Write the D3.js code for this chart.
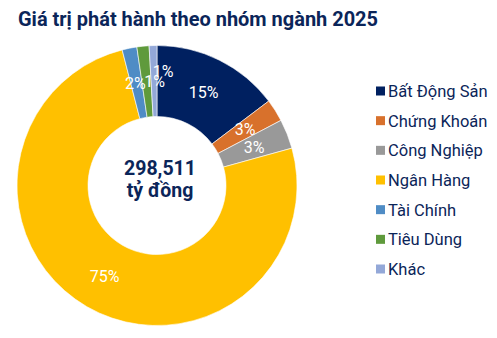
<!DOCTYPE html>
<html><head><meta charset="utf-8">
<script src="https://cdn.jsdelivr.net/npm/d3@7"></script>
<style>
html,body{margin:0;padding:0;background:#fff;}
svg{display:block;font-family:Roboto,"Noto Sans",sans-serif;}
</style></head>
<body><svg id="c" width="497" height="338"></svg>
<script>
const title = "Giá trị phát hành theo nhóm ngành 2025";
const categories = ["Bất Động Sản","Chứng Khoán","Công Nghiệp","Ngân Hàng","Tài Chính","Tiêu Dùng","Khác"];
const shares = [14.7, 2.6, 3.4, 75.3, 1.7, 1.4, 0.9];
const labels = ["15%","3%","3%","75%","2%","1%","1%"];
const colors = ["#002060","#d8712c","#999999","#ffc000","#4f8cc5","#5f9a3c","#93a8d8"];
const centerLines = ["298,511","tỷ đồng"];

const svg = d3.select("#c");
const navy = "#0b2559";

svg.append("text").attr("x",18).attr("y",26)
  .attr("font-size",20).attr("font-weight",700).attr("fill",navy)
  .attr("textLength",360).attr("lengthAdjust","spacingAndGlyphs")
  .text(title);

const cx = 157, cy = 185.5, R = 140, r = 69;
const g = svg.append("g").attr("transform",`translate(${cx},${cy})`);
const pie = d3.pie().sort(null).value(d=>d);
const arcs = pie(shares);
const arc = d3.arc().innerRadius(r).outerRadius(R);
g.selectAll("path").data(arcs).join("path")
  .attr("d",arc).attr("fill",(d,i)=>colors[i])
  .attr("stroke","#fff").attr("stroke-width",0.6);

// small slices at the top are nudged apart so their labels stay readable
function nudge(i){
  const n = categories.length;
  if(i===n-1) return [9,-10];
  if(i===n-2) return [8,0];
  if(i===n-3) return [-1,0];
  return [0,0];
}
g.selectAll("text.lab").data(arcs).join("text").attr("class","lab")
  .attr("transform",(d,i)=>{
    const c = arc.centroid(d), o = nudge(i);
    return `translate(${c[0]+o[0]},${c[1]+o[1]})`;
  })
  .attr("text-anchor","middle").attr("dy","0.36em")
  .attr("font-size",16).attr("fill","#fff")
  .text((d,i)=>labels[i]);

g.selectAll("text.ctr").data(centerLines).join("text").attr("class","ctr")
  .attr("x",3).attr("y",(d,i)=> i===0 ? -10.5 : 11.5)
  .attr("text-anchor","middle")
  .attr("font-size",19.5).attr("font-weight",700).attr("fill",navy)
  .text(d=>d);

const leg = svg.append("g").attr("transform","translate(376,91)");
const y = d3.scalePoint().domain(categories).range([0,178]);
const items = leg.selectAll("g").data(categories).join("g")
  .attr("transform",d=>`translate(0,${y(d)})`);
items.append("rect").attr("x",0).attr("y",-4.5).attr("width",9).attr("height",9)
  .attr("fill",(d,i)=>colors[i]);
items.append("text").attr("x",12).attr("dy","0.36em")
  .attr("font-size",16.5).attr("fill",navy).text(d=>d);
</script></body></html>
